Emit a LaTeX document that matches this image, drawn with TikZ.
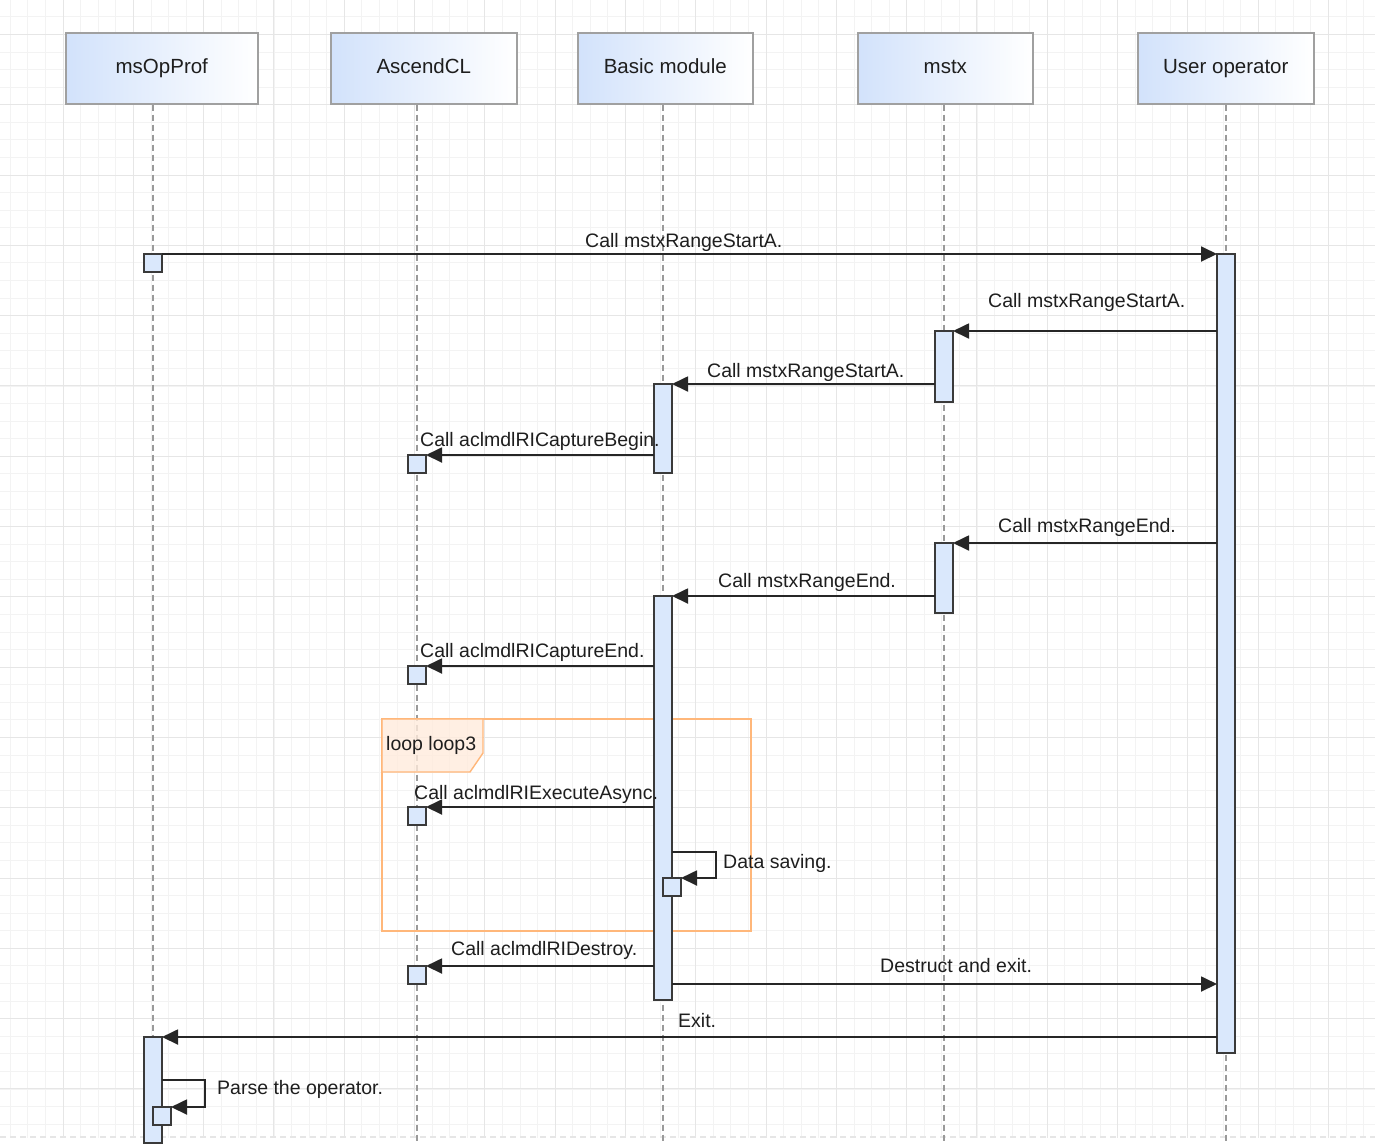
\documentclass[tikz,border=0pt]{standalone}
\usepackage{fontspec}
\setmainfont{Liberation Sans}
\usetikzlibrary{arrows.meta,calc}
\definecolor{gridminor}{HTML}{F3F3F3}
\definecolor{gridmajor}{HTML}{E6E6E6}
\definecolor{headblue}{HTML}{D2E2FB}
\definecolor{headborder}{HTML}{A0A0A0}
\definecolor{actfill}{HTML}{DAE8FC}
\definecolor{actborder}{HTML}{3A3A3A}
\definecolor{lifegray}{HTML}{9A9A9A}
\definecolor{loopor}{HTML}{FFB77A}
\definecolor{looptab}{HTML}{FFEBDC}
\definecolor{txt}{HTML}{1E1E1E}
\tikzset{
  head/.style={draw=headborder, line width=1.6pt, left color=headblue, right color=white,
    minimum height=71pt, anchor=north west, inner sep=0pt, text=txt,
    text height=15pt, text depth=4pt,
    font=\fontsize{20.5}{24}\selectfont},
  act/.style={draw=actborder, line width=1.6pt, fill=actfill, minimum width=18pt,
    anchor=north, inner sep=0pt, outer sep=0pt},
  life/.style={draw=lifegray, line width=1.3pt, dash pattern=on 6pt off 4pt},
  msg/.style={draw=black!85, line width=1.8pt, -{Triangle[length=16pt,width=15pt]}},
  lbl/.style={anchor=base west, inner sep=0pt, text=txt, font=\fontsize{19.5}{22}\selectfont},
  loopframe/.style={anchor=north west, inner sep=0pt, outer sep=0pt},
}
\begin{document}
\begin{tikzpicture}[x=1pt,y=-1pt]
\useasboundingbox (0,0) rectangle (1375,1144);
\fill[white] (0,0) rectangle (1375,1144);
% grid
\begin{scope}
\clip (0,0) rectangle (1375,1137);
\foreach \i in {0,...,80} {
  \draw[gridminor, line width=0.8pt] ({10.3+\i*17.575},0) -- ({10.3+\i*17.575},1144);
}
\foreach \i in {0,...,66} {
  \draw[gridminor, line width=0.8pt] (0,{-0.75+\i*17.575}) -- (1375,{-0.75+\i*17.575});
}
\foreach \i in {-1,...,19} {
  \draw[gridmajor, line width=1pt] ({63+\i*70.3},0) -- ({63+\i*70.3},1144);
}
\foreach \i in {-3,...,14} {
  \draw[gridmajor, line width=1pt] (0,{175+\i*70.3}) -- (1375,{175+\i*70.3});
}
\end{scope}
\draw[gridmajor, line width=1.3pt, dash pattern=on 6pt off 4pt] (0,1137) -- (1375,1137);

% headers
\node[head, minimum width=192pt] (h1) at (65,32) {msOpProf};
\node[head, minimum width=186pt] (h2) at (330,32) {AscendCL};
\node[head, minimum width=175pt] (h3) at (577,32) {Basic module};
\node[head, minimum width=175pt] (h4) at (857,32) {mstx};
\node[head, minimum width=176pt] (h5) at (1137,32) {User operator};

% lifeline ends
\coordinate (e1) at (153,1144);
\coordinate (e2) at (417,1144);
\coordinate (e3) at (663,1144);
\coordinate (e4) at (944,1144);
\coordinate (e5) at (1226,1144);
\draw[life] (h1.south -| e1) -- (e1);
\draw[life] (h2.south -| e2) -- (e2);
\draw[life] (h3.south -| e3) -- (e3);
\draw[life] (h4.south -| e4) -- (e4);
\draw[life] (h5.south -| e5) -- (e5);

% loop frame
\node[loopframe, minimum width=369pt, minimum height=212pt] (loop) at (382,719) {};
\draw[draw=loopor, line width=1.6pt] (loop.north west) rectangle (loop.south east);
\draw[draw=loopor, line width=1.4pt, fill=looptab, fill opacity=0.8]
  (loop.north west) -- ++(101,0) -- ++(0,34) -- ++(-13,19) -- ++(-88,0) -- cycle;
\node[lbl] (looplbl) at (386,750) {loop loop3};

% activations
\node[act, minimum height=18pt] (os1) at (153,254) {};
\node[act, minimum height=799pt] (ub) at (1226,254) {};
\node[act, minimum height=71pt] (mb1) at (944,331) {};
\node[act, minimum height=89pt] (bb1) at (663,384) {};
\node[act, minimum height=18pt] (as1) at (417,455) {};
\node[act, minimum height=70pt] (mb2) at (944,543) {};
\node[act, minimum height=404pt] (bb2) at (663,596) {};
\node[act, minimum height=18pt] (as2) at (417,666) {};
\node[act, minimum height=18pt] (as3) at (417,807) {};
\node[act, minimum height=18pt] (bs) at (672,878) {};
\node[act, minimum height=18pt] (as4) at (417,966) {};
\node[act, minimum height=106pt] (ob2) at (153,1037) {};
\node[act, minimum height=18pt] (os) at (162,1107) {};

% messages
\draw[msg] (os1.north east) -- (ub.north west);
\draw[msg] (ub.west |- mb1.north) -- (mb1.north east);
\draw[msg] (mb1.west |- bb1.north) -- (bb1.north east);
\draw[msg] (bb1.west |- as1.north) -- (as1.north east);
\draw[msg] (ub.west |- mb2.north) -- (mb2.north east);
\draw[msg] (mb2.west |- bb2.north) -- (bb2.north east);
\draw[msg] (bb2.west |- as2.north) -- (as2.north east);
\draw[msg] (bb2.west |- as3.north) -- (as3.north east);
\coordinate (ds) at (672,852);
\draw[msg] (ds) -- ++(44,0) |- (bs.north east);
\draw[msg] (bb2.west |- as4.north) -- (as4.north east);
\draw[msg] (bb2.east |- as4.south) -- (ub.west |- as4.south);
\draw[msg] (ub.west |- ob2.north) -- (ob2.north east);
\coordinate (ps) at (162,1080);
\draw[msg] (ps) -- ++(43,0) |- (os.north east);

% labels
\node[lbl] (l1) at (585,247) {Call mstxRangeStartA.};
\node[lbl] (l2) at (988,307) {Call mstxRangeStartA.};
\node[lbl] (l3) at (707,377) {Call mstxRangeStartA.};
\node[lbl] (l4) at (420,446) {Call aclmdlRICaptureBegin.};
\node[lbl] (l5) at (998,532) {Call mstxRangeEnd.};
\node[lbl] (l6) at (718,587) {Call mstxRangeEnd.};
\node[lbl] (l7) at (420,657) {Call aclmdlRICaptureEnd.};
\node[lbl] (l8) at (414,799) {Call aclmdlRIExecuteAsync.};
\node[lbl] (l9) at (723,868) {Data saving.};
\node[lbl] (l10) at (451,955) {Call aclmdlRIDestroy.};
\node[lbl] (l11) at (880,972) {Destruct and exit.};
\node[lbl] (l12) at (678,1027) {Exit.};
\node[lbl] (l13) at (217,1094) {Parse the operator.};
\end{tikzpicture}
\end{document}
